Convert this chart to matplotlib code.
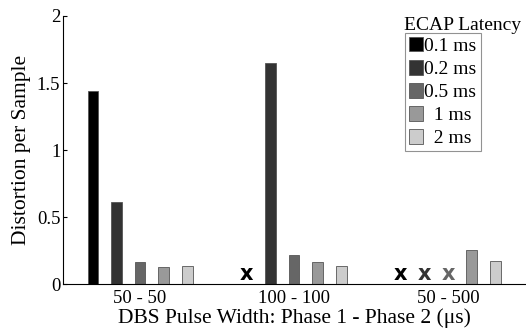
import numpy as np
import matplotlib.pyplot as plt
from matplotlib.patches import Patch

plt.rcParams['font.family'] = ['Liberation Serif', 'DejaVu Serif']

groups = ['50 - 50', '100 - 100', '50 - 500']
latencies = ['0.1 ms', '0.2 ms', '0.5 ms', '1 ms', '2 ms']
colors = ['#000000', '#333333', '#666666', '#999999', '#cccccc']
# nan = no value (drawn as an x)
values = {
    '0.1 ms': [1.443, np.nan, np.nan],
    '0.2 ms': [0.614, 1.647, np.nan],
    '0.5 ms': [0.166, 0.216, np.nan],
    '1 ms': [0.129, 0.164, 0.254],
    '2 ms': [0.132, 0.137, 0.169],
}

fig = plt.figure(figsize=(5.26, 3.33), dpi=100)
ax = fig.add_axes([0.12, 0.147, 0.878, 0.805])

x = np.arange(1, len(groups) + 1)
step = 0.1535
width = 0.069
for i, lat in enumerate(latencies):
    pos = x + (i - 2) * step
    vals = np.array(values[lat])
    ok = ~np.isnan(vals)
    ax.bar(pos[ok], vals[ok], width=width, color=colors[i],
           edgecolor='#555555', linewidth=0.6)
    for p in pos[~ok]:
        ax.text(p, 0.075, 'x', color=colors[i], fontsize=15, fontweight='bold',
                family='DejaVu Sans', ha='center', va='center')

ax.set_xlim(0.5, 3.5)
ax.set_ylim(0, 2)
ax.set_xticks(x)
ax.set_xticklabels(groups, fontsize=13.5)
ax.set_yticks([0, 0.5, 1, 1.5, 2])
ax.set_yticklabels(['0', '0.5', '1', '1.5', '2'], fontsize=13.5)
ax.tick_params(axis='y', direction='in', length=3, pad=2)
ax.tick_params(axis='x', length=0, pad=4)
ax.spines['top'].set_visible(False)
ax.spines['right'].set_visible(False)
ax.set_ylabel('Distortion per Sample', fontsize=15.5, labelpad=4)
ax.set_xlabel('DBS Pulse Width: Phase 1 - Phase 2 (\u03bcs)', fontsize=15.5, labelpad=1)

handles = [Patch(facecolor=c, edgecolor='#555555', linewidth=0.6) for c in colors]
labels = ['0.1 ms', '0.2 ms', '0.5 ms', '  1 ms', '  2 ms']
leg = ax.legend(handles, labels, loc='upper left',
                fontsize=14, frameon=True, fancybox=False, edgecolor='#777777',
                handlelength=0.7, handleheight=0.8, handletextpad=0.1,
                labelspacing=0.25, borderpad=0.2, borderaxespad=0)
leg.set_bbox_to_anchor((405 / 526, 1 - 32.7 / 333), transform=fig.transFigure)
leg.get_frame().set_linewidth(0.8)
fig.text(463 / 526, 1 - 26 / 333, 'ECAP Latency', fontsize=14, ha='center', va='center')

fig.savefig('out.png', dpi=100)
